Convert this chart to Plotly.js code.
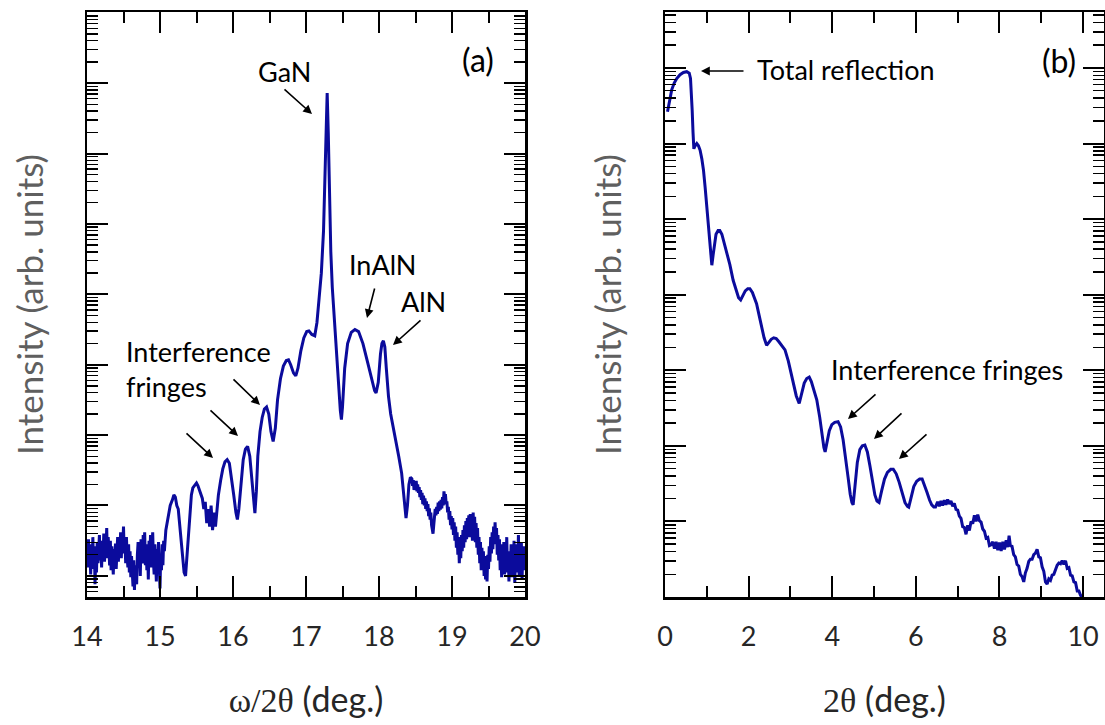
<!DOCTYPE html>
<html>
<head>
<meta charset="utf-8">
<script src="https://cdn.plot.ly/plotly-3.0.1.min.js"></script>
<style>html,body{margin:0;padding:0;background:#fff;}</style>
</head>
<body>
<div id="chart" style="width:1105px;height:725px;"></div>
<script>
// ---------- (a) omega/2theta scan : x in deg, log10(intensity) ----------
const omegaX = [
 14.00,14.01,14.02,14.03,14.04,14.05,14.06,14.07,14.08,14.09,
 14.10,14.11,14.12,14.13,14.14,14.15,14.16,14.17,14.18,14.19,
 14.20,14.21,14.22,14.23,14.24,14.25,14.26,14.27,14.28,14.29,
 14.30,14.31,14.32,14.33,14.34,14.35,14.36,14.37,14.38,14.39,
 14.40,14.41,14.42,14.43,14.44,14.45,14.46,14.47,14.48,14.49,
 14.50,14.51,14.52,14.53,14.54,14.55,14.56,14.57,14.58,14.59,
 14.60,14.61,14.62,14.63,14.64,14.65,14.66,14.67,14.68,14.69,
 14.70,14.71,14.72,14.73,14.74,14.75,14.76,14.77,14.78,14.79,
 14.80,14.81,14.82,14.83,14.84,14.85,14.86,14.87,14.88,14.89,
 14.90,14.91,14.92,14.93,14.94,14.95,14.96,14.97,14.98,14.99,
 15.00,15.01,15.02,15.03,15.04,15.05,15.06,
 15.08,15.11,15.14,15.17,15.19,15.21,15.23,15.25,15.27,15.29,
 15.31,15.33,15.35,15.37,15.39,15.41,15.43,15.45,15.48,15.50,
 15.52,15.55,15.58,15.60,15.62,15.64,15.66,15.68,15.70,15.72,
 15.74,15.76,15.78,15.80,15.83,15.86,15.89,15.92,15.95,15.98,
 16.01,16.04,16.06,16.08,16.11,16.14,16.17,16.20,16.23,16.25,
 16.27,16.29,16.30,16.32,16.34,16.37,16.40,16.43,16.46,16.49,
 16.52,16.55,16.58,16.61,16.65,16.69,16.73,16.76,16.79,16.83,
 16.86,16.89,16.93,16.97,17.01,17.04,17.08,17.12,17.15,17.18,
 17.21,17.24,17.26,17.275,17.29,17.305,17.32,17.34,17.36,17.39,
 17.42,17.45,17.47,17.485,17.50,17.53,17.57,17.62,17.67,17.72,
 17.78,17.84,17.90,17.94,17.96,17.99,18.02,18.04,18.06,18.08,
 18.10,18.13,18.16,18.20,18.24,18.27,18.31,18.34,18.37,18.39,
 18.41,18.43,
 18.45,18.46,18.47,18.48,18.49,18.50,18.51,18.52,18.53,18.54,
 18.55,18.56,18.57,18.58,18.59,18.60,18.61,18.62,18.63,18.64,
 18.65,18.66,18.67,18.68,18.69,18.70,18.71,18.72,18.73,18.74,
 18.75,18.76,18.77,18.78,18.79,18.80,18.81,18.82,18.83,18.84,
 18.85,18.86,18.87,18.88,18.89,18.90,18.91,18.92,18.93,18.94,
 18.95,18.96,18.97,18.98,18.99,19.00,19.01,19.02,19.03,19.04,
 19.05,19.06,19.07,19.08,19.09,19.10,19.11,19.12,19.13,19.14,
 19.15,19.16,19.17,19.18,19.19,19.20,19.21,19.22,19.23,19.24,
 19.25,19.26,19.27,19.28,19.29,19.30,19.31,19.32,19.33,19.34,
 19.35,19.36,19.37,19.38,19.39,19.40,19.41,19.42,19.43,19.44,
 19.45,19.46,19.47,19.48,19.49,19.50,19.51,19.52,19.53,19.54,
 19.55,19.56,19.57,19.58,19.59,19.60,19.61,19.62,19.63,19.64,
 19.65,19.66,19.67,19.68,19.69,19.70,19.71,19.72,19.73,19.74,
 19.75,19.76,19.77,19.78,19.79,19.80,19.81,19.82,19.83,19.84,
 19.85,19.86,19.87,19.88,19.89,19.90,19.91,19.92,19.93,19.94,
 19.95,19.96,19.97,19.98,19.99,20.00
];
const omegaLogI = [
 0.30,0.12,0.52,0.20,0.45,0.02,0.38,0.10,0.55,0.15,
 0.42,-0.12,0.25,0.05,0.48,0.18,0.35,0.58,0.22,0.50,
 0.12,0.45,0.28,0.60,0.20,0.52,0.35,0.68,0.25,0.55,
 0.40,0.15,0.50,0.08,0.42,0.22,0.02,0.38,0.18,0.46,
 0.10,0.35,0.55,0.20,0.48,0.30,0.62,0.25,0.58,0.40,
 0.70,0.32,0.50,0.18,0.55,0.28,0.12,0.45,0.05,0.35,
 -0.02,0.28,0.10,-0.15,0.22,-0.20,0.15,0.05,-0.12,0.30,
 0.48,0.12,0.40,0.00,0.52,0.25,0.18,0.58,0.30,0.62,
 0.15,0.45,0.08,0.38,-0.05,0.50,0.22,0.58,0.12,0.40,
 0.62,0.20,0.02,0.45,0.25,-0.08,0.38,0.10,0.48,-0.02,
 -0.18,0.30,0.08,0.45,0.15,0.50,0.35,
 0.65,0.85,1.00,1.08,1.15,1.12,1.00,0.95,0.75,0.50,
 0.25,0.05,0.00,0.30,0.70,1.00,1.15,1.25,1.30,1.32,
 1.28,1.20,1.10,0.95,1.05,0.75,0.95,0.70,1.00,0.65,
 0.90,0.70,1.00,1.15,1.35,1.52,1.62,1.65,1.60,1.40,
 1.15,0.90,0.80,0.95,1.35,1.65,1.80,1.84,1.70,1.45,
 1.15,0.95,0.89,1.20,1.70,2.05,2.25,2.37,2.40,2.30,
 2.05,1.91,2.10,2.50,2.80,2.98,3.06,3.07,3.00,2.88,
 2.84,2.95,3.20,3.38,3.47,3.48,3.43,3.41,3.60,3.95,
 4.30,4.90,5.60,6.40,6.86,6.30,5.40,4.60,4.10,3.60,
 3.15,2.70,2.35,2.22,2.40,2.95,3.30,3.46,3.50,3.47,
 3.30,3.05,2.80,2.63,2.60,2.75,3.15,3.30,3.34,3.25,
 2.95,2.55,2.30,2.10,1.89,1.70,1.46,1.10,0.82,1.00,
 1.30,1.40,
 1.38,1.28,1.36,1.22,1.33,1.25,1.35,1.20,1.30,1.18,
 1.26,1.12,1.22,1.08,1.18,1.02,1.14,1.00,1.10,0.95,
 1.06,0.92,1.02,0.85,0.96,0.80,0.90,0.72,0.66,0.60,
 0.72,0.82,0.95,0.86,0.98,0.88,1.04,0.92,1.06,0.94,
 1.08,0.96,1.12,1.00,1.20,1.10,1.16,1.02,1.06,0.90,
 0.98,0.80,0.92,0.72,0.85,0.66,0.82,0.58,0.76,0.50,
 0.70,0.40,0.62,0.30,0.55,0.18,0.48,0.25,0.58,0.35,
 0.65,0.40,0.72,0.48,0.78,0.52,0.82,0.60,0.86,0.55,
 0.88,0.62,0.80,0.50,0.90,0.58,0.84,0.48,0.75,0.40,
 0.68,0.30,0.55,0.18,0.48,0.08,0.40,0.12,0.35,0.00,
 0.28,-0.05,0.22,-0.08,0.30,0.10,0.42,0.20,0.55,0.32,
 0.62,0.38,0.70,0.45,0.76,0.50,0.68,0.30,0.58,0.22,
 0.52,0.08,0.45,-0.02,0.38,0.10,0.48,0.02,0.42,0.15,
 0.55,0.05,0.35,-0.08,0.30,0.12,0.45,-0.02,0.38,0.08,
 0.50,-0.10,0.32,0.05,0.45,0.15,0.58,0.00,0.40,0.10,
 0.48,-0.05,0.35,0.08,0.42,0.25
];

// ---------- (b) reflectivity scan : 2theta in deg, log10(intensity) ----------
const reflX = [
 0.06,0.10,0.16,0.22,0.28,0.36,0.44,0.52,0.58,0.61,
 0.63,0.65,0.67,0.69,0.72,0.76,0.80,0.84,0.88,0.92,
 0.96,1.00,1.03,1.06,1.09,1.12,1.15,1.18,1.22,1.27,
 1.31,1.36,1.41,1.47,1.55,1.63,1.70,1.76,1.81,1.86,
 1.92,1.98,2.03,2.09,2.14,2.19,2.25,2.31,2.37,2.43,
 2.48,2.54,2.60,2.66,2.72,2.79,2.87,2.95,3.01,3.07,
 3.14,3.21,3.27,3.33,3.39,3.45,3.50,3.56,3.63,3.70,
 3.76,3.80,3.83,3.87,3.93,3.99,4.06,4.14,4.20,4.26,
 4.32,4.38,4.43,4.47,4.50,4.54,4.60,4.66,4.72,4.78,
 4.84,4.90,4.96,5.02,5.07,5.12,5.18,5.25,5.32,5.40,
 5.46,5.53,5.60,5.67,5.74,5.80,5.83,5.88,5.95,6.02,
 6.09,6.15,6.21,6.27,6.33,6.38,6.43,6.47,6.52,6.56,
 6.60,6.64,6.68,6.72,6.76,6.80,6.84,6.88,6.92,6.96,
 7.00,7.04,7.08,7.12,7.16,7.20,7.24,7.28,7.32,7.36,
 7.40,7.44,7.48,7.52,7.56,7.60,7.64,7.68,7.72,7.76,
 7.80,7.84,7.88,7.92,7.96,8.00,8.04,8.08,8.12,8.16,
 8.20,8.23,8.26,8.30,8.34,8.38,8.42,8.46,8.50,8.54,
 8.58,8.62,8.66,8.70,8.74,8.78,8.82,8.86,8.90,8.94,
 8.98,9.02,9.06,9.10,9.14,9.18,9.22,9.26,9.30,9.34,
 9.38,9.42,9.46,9.50,9.54,9.58,9.62,9.66,9.70,9.74,
 9.78,9.82,9.86,9.90,9.94,9.98
];
const reflLogI = [
 6.42,6.55,6.71,6.80,6.86,6.91,6.94,6.95,6.93,6.86,
 6.70,6.44,6.15,5.93,5.97,6.00,5.97,5.91,5.80,5.65,
 5.42,5.16,4.92,4.68,4.48,4.39,4.52,4.68,4.80,4.85,
 4.85,4.80,4.70,4.59,4.40,4.19,4.05,3.96,3.93,3.98,
 4.05,4.08,4.08,4.03,3.96,3.88,3.73,3.58,3.43,3.33,
 3.36,3.41,3.43,3.42,3.38,3.33,3.27,3.12,2.96,2.83,
 2.66,2.56,2.70,2.83,2.89,2.91,2.85,2.74,2.61,2.38,
 2.12,1.98,1.92,2.02,2.20,2.28,2.31,2.32,2.25,2.08,
 1.86,1.58,1.36,1.25,1.22,1.45,1.78,1.95,2.00,2.01,
 1.92,1.74,1.52,1.35,1.27,1.25,1.40,1.56,1.65,1.69,
 1.69,1.63,1.52,1.38,1.25,1.20,1.19,1.30,1.46,1.53,
 1.56,1.56,1.48,1.38,1.28,1.22,1.19,1.19,1.26,1.20,
 1.27,1.21,1.28,1.22,1.29,1.23,1.27,1.20,1.24,1.16,
 1.15,1.07,1.04,0.93,0.92,0.83,0.95,0.88,1.00,0.97,
 1.08,1.00,1.09,1.01,0.99,0.90,0.87,0.78,0.79,0.68,
 0.69,0.73,0.64,0.73,0.62,0.72,0.61,0.73,0.63,0.75,
 0.66,0.81,0.68,0.67,0.56,0.53,0.43,0.41,0.30,0.27,
 0.20,0.32,0.38,0.47,0.50,0.50,0.56,0.58,0.63,0.53,
 0.52,0.40,0.34,0.20,0.17,0.24,0.22,0.29,0.30,0.36,
 0.42,0.45,0.44,0.48,0.43,0.48,0.38,0.39,0.29,0.28,
 0.20,0.19,0.08,0.08,0.02,0.01
];

const xTicksA = [14, 15, 16, 17, 18, 19, 20];
const xTicksB = [0, 2, 4, 6, 8, 10];

// ---------- layout geometry (pixels) ----------
const W = 1105, H = 725;
const M = {l: 87, r: 1, t: 12, b: 128};
const PW = W - M.l - M.r, PH = H - M.t - M.b;
const px = v => (v - M.l) / PW;
const py = v => (H - M.b - v) / PH;

const lineColor = '#0b0b9c';
const sans = 'Lato, "Open Sans", "Noto Sans", sans-serif';

const traces = [
  {x: omegaX, y: omegaLogI.map(v => Math.pow(10, v)), xaxis: 'x', yaxis: 'y',
   type: 'scatter', mode: 'lines', line: {color: lineColor, width: 3}, hoverinfo: 'skip'},
  {x: reflX, y: reflLogI.map(v => Math.pow(10, v)), xaxis: 'x2', yaxis: 'y2',
   type: 'scatter', mode: 'lines', line: {color: lineColor, width: 3}, hoverinfo: 'skip'}
];

const tickFont = {family: sans, size: 27, color: '#262626'};
const titleFontX = {family: sans, size: 34, color: '#262626'};
const titleFontY = {family: sans, size: 35, color: '#5f5f5f'};

function xAxis(domain, range, tickvals, minorStep, titleHtml, anchor) {
  return {
    domain: domain, range: range, anchor: anchor,
    tickmode: 'array', tickvals: tickvals, ticktext: tickvals.map(String),
    ticks: 'inside', ticklen: 21, tickwidth: 2, tickcolor: '#000',
    minor: {ticks: 'inside', ticklen: 11, tickwidth: 2, tickcolor: '#000', dtick: minorStep, tick0: range[0] < 1 ? 0 : 14, showgrid: false},
    showline: true, linecolor: '#000', linewidth: 2.5, mirror: 'allticks',
    showgrid: false, zeroline: false, automargin: false,
    tickfont: tickFont, ticklabelstandoff: 14,
    title: {text: titleHtml, font: titleFontX, standoff: 38}
  };
}
function yAxis(domain, range, anchor) {
  return {
    domain: domain, type: 'log', range: range, anchor: anchor,
    tickmode: 'linear', tick0: 0, dtick: 1, showticklabels: false,
    ticks: 'inside', ticklen: 21, tickwidth: 2, tickcolor: '#000',
    minor: {ticks: 'inside', ticklen: 11, tickwidth: 1.5, tickcolor: '#000', dtick: 'D1', showgrid: false},
    showline: true, linecolor: '#000', linewidth: 2.5, mirror: 'allticks',
    showgrid: false, zeroline: false, automargin: false,
    title: {text: 'Intensity (arb. units)', font: titleFontY, standoff: 31}
  };
}

const serif = "font-family:'Liberation Serif','DejaVu Serif',serif";
const layout = {
  width: W, height: H,
  margin: M,
  paper_bgcolor: '#fff', plot_bgcolor: '#fff',
  showlegend: false,
  xaxis: xAxis([0, px(525)], [14, 20], xTicksA, 0.5, `<span style="${serif}">ω/2θ</span> (deg.)`, 'y'),
  yaxis: yAxis([0, 1], [-0.3, 8.01], 'x'),
  xaxis2: xAxis([px(665), 1], [0, 10.5], xTicksB, 1, `<span style="${serif}">2θ</span> (deg.)`, 'y2'),
  yaxis2: yAxis([0, 1], [0, 7.74], 'x2'),
  annotations: []
};

const ann = layout.annotations;
function label(text, cx, cy, size, opts) {
  ann.push(Object.assign({xref: 'paper', yref: 'paper', x: px(cx), y: py(cy), text: text,
    showarrow: false, font: {family: sans, size: size, color: '#000'},
    xanchor: 'center', yanchor: 'middle'}, opts || {}));
}
function arrow(x1, y1, x2, y2) { // tail (x1,y1) -> head (x2,y2), pixels
  ann.push({xref: 'paper', yref: 'paper', x: px(x2), y: py(y2), ax: x1 - x2, ay: y1 - y2,
    axref: 'pixel', ayref: 'pixel', text: '', showarrow: true,
    arrowhead: 2, arrowsize: 1.1, arrowwidth: 1.6, arrowcolor: '#000', standoff: 0, startstandoff: 0});
}

// panel (a)
label('(a)', 478, 59, 32);
label('GaN', 284, 72, 27);
arrow(283, 88, 312, 114);
label('InAlN', 382, 264, 27);
arrow(375, 287, 367, 318);
label('AlN', 423, 301, 27);
arrow(422, 319, 393, 345);
label('Interference<br>fringes', 124, 369, 27, {xanchor: 'left', align: 'left'});
arrow(232, 378, 260, 405);
arrow(209, 409, 238, 436);
arrow(185, 432, 213, 458);

// panel (b)
label('(b)', 1059, 60, 32);
label('Total reflection', 846, 70, 27);
arrow(745, 71, 701, 71);
label('Interference fringes', 947, 369, 27);
arrow(877, 393, 848, 419);
arrow(903, 412, 874, 439);
arrow(928, 433, 899, 459);

Plotly.newPlot('chart', traces, layout, {staticPlot: true, displayModeBar: false});
</script>
</body>
</html>
